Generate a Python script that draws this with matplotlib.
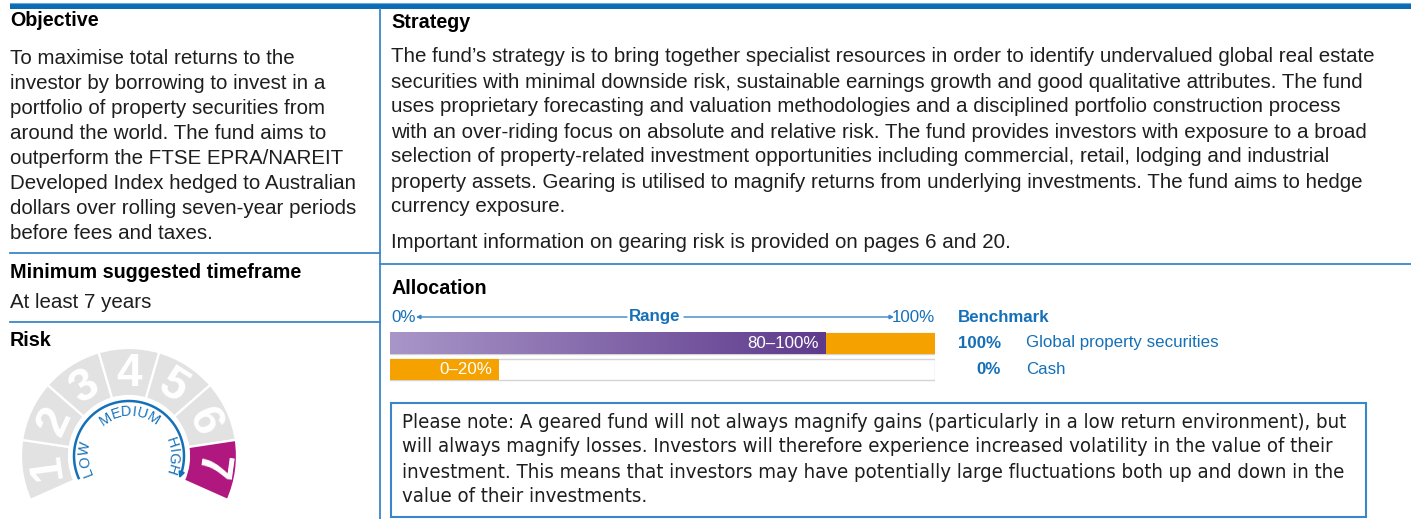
import numpy as np
import matplotlib
matplotlib.use("Agg")
import matplotlib.pyplot as plt
from matplotlib.patches import Rectangle, Wedge
from matplotlib.colors import LinearSegmentedColormap

W, H = 1411, 519

# text content
objective_lines = [
    "To maximise total returns to the",
    "investor by borrowing to invest in a",
    "portfolio of property securities from",
    "around the world. The fund aims to",
    "outperform the FTSE EPRA/NAREIT",
    "Developed Index hedged to Australian",
    "dollars over rolling seven-year periods",
    "before fees and taxes.",
]
strategy_lines = [
    "The fund\u2019s strategy is to bring together specialist resources in order to identify undervalued global real estate",
    "securities with minimal downside risk, sustainable earnings growth and good qualitative attributes. The fund",
    "uses proprietary forecasting and valuation methodologies and a disciplined portfolio construction process",
    "with an over-riding focus on absolute and relative risk. The fund provides investors with exposure to a broad",
    "selection of property-related investment opportunities including commercial, retail, lodging and industrial",
    "property assets. Gearing is utilised to magnify returns from underlying investments. The fund aims to hedge",
    "currency exposure.",
]
gearing_note = "Important information on gearing risk is provided on pages 6 and 20."
note_lines = [
    "Please note: A geared fund will not always magnify gains (particularly in a low return environment), but",
    "will always magnify losses. Investors will therefore experience increased volatility in the value of their",
    "investment. This means that investors may have potentially large fluctuations both up and down in the",
    "value of their investments.",
]
timeframe = "At least 7 years"

# risk gauge
risk_levels = [1, 2, 3, 4, 5, 6, 7]
risk_level = 7
risk_words = ["LOW", "MEDIUM", "HIGH"]
risk_word_angles = [184, 90, 0]

# allocation
alloc_names = ["Global property securities", "Cash"]
alloc_low = [80, 0]
alloc_high = [100, 20]
bench_pct = [100, 0]

BLUE = "#1570b8"
LINE = "#3a86c8"
ORANGE = "#f5a200"
MAGENTA = "#b0177f"
GREY = "#e2e2e2"
INK = "#1e1e1e"

plt.rcParams["font.family"] = ["Liberation Sans", "DejaVu Sans"]
NARROW = dict(family=["Liberation Sans Narrow", "DejaVu Sans"], stretch="condensed")

fig = plt.figure(figsize=(W / 100, H / 100), dpi=100)
ax = fig.add_axes([0, 0, 1, 1])
ax.set_xlim(0, W)
ax.set_ylim(H, 0)
ax.axis("off")
renderer = fig.canvas.get_renderer()


def fit_size(s, width, **kw):
    t = ax.text(0, 0, s, fontsize=10, **kw)
    w = t.get_window_extent(renderer).width
    t.remove()
    return 10 * width / w


body = fit_size(strategy_lines[0], 987)
head = fit_size("Objective", 89, weight="bold")
note = fit_size(note_lines[0], 951, **NARROW)
small = fit_size("Global property securities", 192)

# frame lines
ax.add_patch(Rectangle((10, 3), W - 10, 6, color="#0b6cb3", lw=0))
ax.plot([10, W], [3.3, 3.3], color="#6fa8d8", lw=0.8)
ax.plot([380, 380], [9, H], color=LINE, lw=1.3)
ax.plot([10, 380], [252.5, 252.5], color=LINE, lw=1.3)
ax.plot([10, 380], [321.5, 321.5], color=LINE, lw=1.3)
ax.plot([380, W], [263.5, 263.5], color=LINE, lw=1.3)

# left column
ax.text(10, 20, "Objective", fontsize=head, weight="bold", color="black", va="center")
for i, s in enumerate(objective_lines):
    ax.text(10, 58 + i * 25.1, s, fontsize=body, color=INK, va="center")
ax.text(10, 273, "Minimum suggested timeframe", fontsize=head, weight="bold", color="black", va="center")
ax.text(10, 303, timeframe, fontsize=body, color=INK, va="center")
ax.text(10, 341, "Risk", fontsize=head, weight="bold", color="black", va="center")

# right column
ax.text(391, 23, "Strategy", fontsize=head, weight="bold", color="black", va="center")
for i, s in enumerate(strategy_lines):
    ax.text(391, 57 + i * 25.0, s, fontsize=body, color=INK, va="center")
ax.text(391, 242, gearing_note, fontsize=body, color=INK, va="center")
ax.text(391, 289, "Allocation", fontsize=head, weight="bold", color="black", va="center")

# allocation bars
bx0, bx1 = 390, 935
bx = fig.add_axes([bx0 / W, (H - 383) / H, (bx1 - bx0) / W, 53 / H])
bx.set_xlim(0, 100)
bx.set_ylim(1.5, -0.5)
bx.axis("off")
purple = LinearSegmentedColormap.from_list("purple", ["#a996c8", "#5e3a8c"])
grad = np.linspace(0, 1, 256).reshape(1, -1)
for i, (lo, hi) in enumerate(zip(alloc_low, alloc_high)):
    bx.add_patch(Rectangle((0, i - 0.4), 100, 0.8, facecolor="white", edgecolor="#d4d4d4", lw=1, zorder=1))
    if lo > 0:
        bx.imshow(grad, extent=(0, lo, i + 0.4, i - 0.4), cmap=purple, aspect="auto",
                  interpolation="bilinear", zorder=2)
    bx.barh(i, hi - lo, left=lo, height=0.8, color=ORANGE, lw=0, zorder=2)
    lx = lo if lo > 0 else hi
    bx.text(lx - 1.3, i, f"{lo}\u2013{hi}%", color="white", fontsize=small, ha="right", va="center", zorder=3)
bx.set_xlim(0, 100)
bx.set_ylim(1.5, -0.5)

# range header
ry = 317
ax.text(bx0 + 1, ry, "0%", color=BLUE, fontsize=small, va="center")
ax.text(655, ry, "Range", color=BLUE, fontsize=small, weight="bold", va="center", ha="center")
ax.text(bx1, ry, "100%", color=BLUE, fontsize=small, va="center", ha="right")
arrow = dict(arrowstyle="-|>", color=LINE, lw=1, mutation_scale=6, shrinkA=0, shrinkB=0)
ax.annotate("", xy=(416, ry), xytext=(627, ry), arrowprops=arrow)
ax.annotate("", xy=(894, ry), xytext=(684, ry), arrowprops=arrow)

# benchmark
ax.text(958, ry, "Benchmark", color=BLUE, fontsize=small, weight="bold", va="center")
for i, (p, name) in enumerate(zip(bench_pct, alloc_names)):
    yy = 343 + i * 26
    ax.text(1001, yy, f"{p}%", color=BLUE, fontsize=small, weight="bold", va="center", ha="right")
    ax.text(1026, yy, name, color=BLUE, fontsize=small, va="center")

# note box
ax.add_patch(Rectangle((391, 403), 975, 114, facecolor="white", edgecolor=LINE, lw=1.5))
for i, s in enumerate(note_lines):
    ax.text(402, 422 + i * 25, s, fontsize=note, color=INK, va="center", **NARROW)

# risk gauge
gx = fig.add_axes([0, 0, 260 / W, 189 / H])
gx.set_xlim(-129, 131)
gx.set_ylim(-63, 126)
gx.axis("off")
r_out, r_in = 108, 60
a_start, a_end = 204, -24
step = (a_start - a_end) / len(risk_levels)
for k, lvl in enumerate(risk_levels):
    t2 = a_start - k * step
    t1 = t2 - step
    col = MAGENTA if lvl == risk_level else GREY
    gx.add_patch(Wedge((0, 0), r_out, t1, t2, width=r_out - r_in, facecolor=col, edgecolor="white", lw=1.6))
    am = np.radians((t1 + t2) / 2)
    gx.text(82 * np.cos(am), 82 * np.sin(am), str(lvl), color="white", fontsize=33, weight="bold",
            ha="center", va="center", rotation=np.degrees(am) - 90, rotation_mode="anchor")

# blue arc with arrow at the high end
arc = np.radians(np.linspace(205, -18, 200))
r_arc = 55
gx.plot(r_arc * np.cos(arc), r_arc * np.sin(arc), color=BLUE, lw=1.8, solid_capstyle="butt")
e1, e2 = np.radians(-17), np.radians(-24)
gx.annotate("", xy=(r_arc * np.cos(e2), r_arc * np.sin(e2)), xytext=(r_arc * np.cos(e1), r_arc * np.sin(e1)),
            arrowprops=dict(arrowstyle="-|>", color=BLUE, lw=1.5, mutation_scale=8, shrinkA=0, shrinkB=0))

# curved labels
r_txt = 44
wsize = 10.5
for word, mid in zip(risk_words, risk_word_angles):
    widths = []
    for c in word:
        t = gx.text(0, 0, c, fontsize=wsize)
        widths.append(t.get_window_extent(renderer).width + 0.5)
        t.remove()
    span = np.degrees(sum(widths) / r_txt)
    cur = mid + span / 2
    for c, w in zip(word, widths):
        a = cur - np.degrees(w / 2 / r_txt)
        ar = np.radians(a)
        gx.text(r_txt * np.cos(ar), r_txt * np.sin(ar), c, color=BLUE, fontsize=wsize,
                ha="center", va="center", rotation=a - 90, rotation_mode="anchor")
        cur -= np.degrees(w / r_txt)

fig.savefig("out.png", dpi=100)
